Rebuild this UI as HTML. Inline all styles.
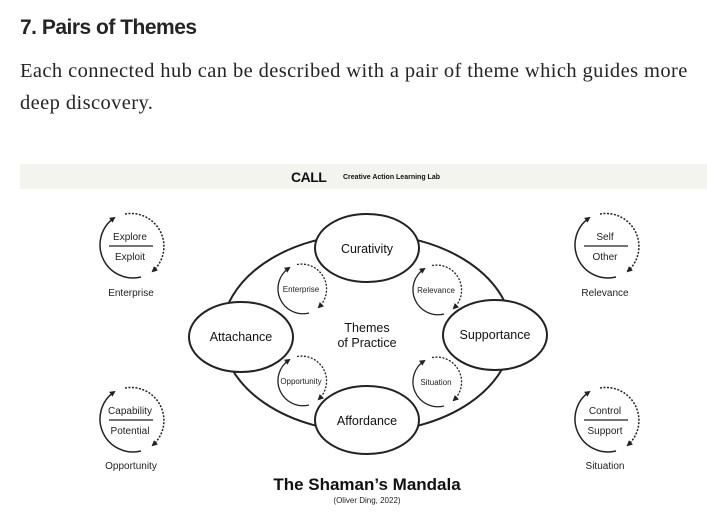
<!DOCTYPE html>
<html><head><meta charset="utf-8"><style>
body{margin:0;width:707px;height:529px;background:#fff;overflow:hidden;position:relative;font-family:"Liberation Sans",sans-serif}
h1{position:absolute;left:20px;top:16px;margin:0;font-size:21px;font-weight:bold;color:#242424;letter-spacing:-0.5px}
p{position:absolute;left:20px;top:55px;margin:0;width:700px;font-family:"Liberation Serif",serif;font-size:20.5px;letter-spacing:0.4px;line-height:32px;color:#242424}
svg{position:absolute;left:0;top:0}
</style></head><body>
<h1>7. Pairs of Themes</h1>
<p>Each connected hub can be described with a pair of theme which guides more deep discovery.</p>
<svg width="707" height="529" font-family="Liberation Sans, sans-serif">
<defs>
<marker id="a" markerWidth="6" markerHeight="6" refX="4" refY="3" orient="auto" markerUnits="userSpaceOnUse"><path d="M0,0 L6,3 L0,6 z" fill="#222"/></marker>
<g id="L"><path d="M10 31 A33 33 0 0 1 -17 -28" fill="none" stroke="#222" stroke-width="1.5" marker-end="url(#a)"/><path d="M-6 -32 A33 33 0 0 1 22 25" fill="none" stroke="#222" stroke-width="1.5" stroke-dasharray="2 1.5" marker-end="url(#a)"/></g>
<g id="S"><path d="M7 24 A25 25 0 0 1 -13 -21" fill="none" stroke="#222" stroke-width="1.3" marker-end="url(#a)"/><path d="M-5 -24.5 A25 25 0 0 1 17 18" fill="none" stroke="#222" stroke-width="1.3" stroke-dasharray="2 1.5" marker-end="url(#a)"/></g>
</defs>
<rect x="20" y="164" width="687" height="25" fill="#f3f4ee"/>
<text x="291" y="182" font-size="14" font-weight="bold" fill="#111" letter-spacing="-0.5">CALL</text>
<text x="343" y="179" font-size="7" font-weight="bold" fill="#111">Creative Action Learning Lab</text>
<ellipse cx="367" cy="333" rx="145" ry="99" fill="none" stroke="#222" stroke-width="2"/>
<g fill="#fff" stroke="#222" stroke-width="2">
<ellipse cx="367" cy="248" rx="52" ry="34"/><ellipse cx="367" cy="420" rx="52" ry="34"/>
<ellipse cx="241" cy="337" rx="52" ry="35"/><ellipse cx="495" cy="335" rx="52" ry="35"/></g>
<g font-size="12.5" text-anchor="middle" fill="#111">
<text x="367" y="253">Curativity</text><text x="367" y="425">Affordance</text>
<text x="241" y="341">Attachance</text><text x="495" y="339">Supportance</text>
<text x="367" y="332">Themes</text><text x="367" y="347">of Practice</text></g>
<use href="#S" x="302" y="289"/><use href="#S" x="437" y="290"/><use href="#S" x="302" y="381"/><use href="#S" x="437" y="382"/>
<g font-size="8" text-anchor="middle" fill="#222">
<text x="301" y="292">Enterprise</text><text x="436" y="293">Relevance</text><text x="301" y="384">Opportunity</text><text x="436" y="385">Situation</text></g>
<use href="#L" x="131" y="246"/><use href="#L" x="606" y="246"/><use href="#L" x="131" y="420"/><use href="#L" x="606" y="420"/>
<g stroke="#222" stroke-width="1.3"><line x1="109" y1="246" x2="153" y2="246"/><line x1="584" y1="246" x2="628" y2="246"/><line x1="109" y1="420" x2="153" y2="420"/><line x1="584" y1="420" x2="628" y2="420"/></g>
<g font-size="10" text-anchor="middle" fill="#222">
<text x="130" y="240">Explore</text><text x="130" y="260">Exploit</text>
<text x="605" y="240">Self</text><text x="605" y="260">Other</text>
<text x="130" y="414">Capability</text><text x="130" y="434">Potential</text>
<text x="605" y="414">Control</text><text x="605" y="434">Support</text>
<text x="131" y="296">Enterprise</text><text x="605" y="296">Relevance</text>
<text x="131" y="469">Opportunity</text><text x="605" y="469">Situation</text></g>
<text x="367" y="490" font-size="17" font-weight="bold" text-anchor="middle" fill="#111">The Shaman’s Mandala</text>
<text x="367" y="503" font-size="8" text-anchor="middle" fill="#222">(Oliver Ding, 2022)</text>
</svg>
</body></html>
